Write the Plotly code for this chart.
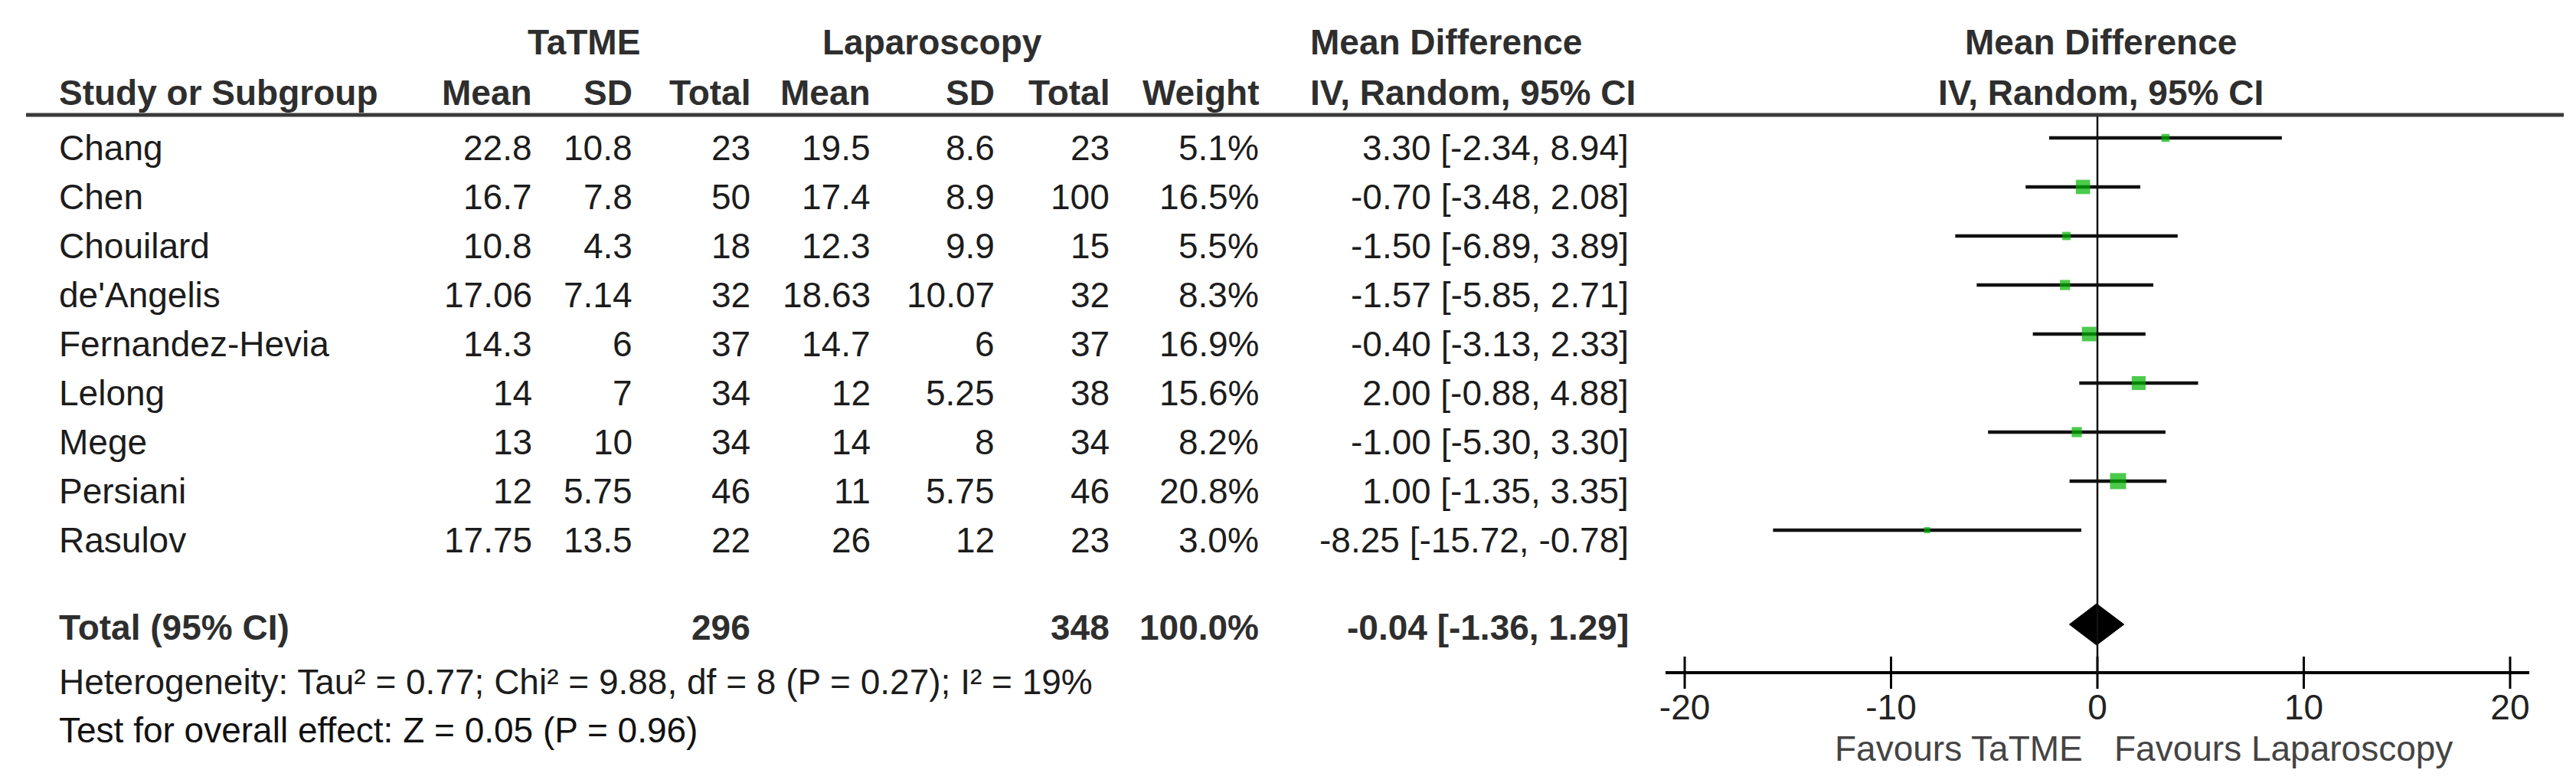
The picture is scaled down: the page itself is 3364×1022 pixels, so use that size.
import plotly.graph_objects as go

# ---------------- data ----------------
studies = ["Chang", "Chen", "Chouilard", "de'Angelis", "Fernandez-Hevia",
           "Lelong", "Mege", "Persiani", "Rasulov"]
tatme_mean = [22.8, 16.7, 10.8, 17.06, 14.3, 14, 13, 12, 17.75]
tatme_sd = [10.8, 7.8, 4.3, 7.14, 6, 7, 10, 5.75, 13.5]
tatme_n = [23, 50, 18, 32, 37, 34, 34, 46, 22]
lap_mean = [19.5, 17.4, 12.3, 18.63, 14.7, 12, 14, 11, 26]
lap_sd = [8.6, 8.9, 9.9, 10.07, 6, 5.25, 8, 5.75, 12]
lap_n = [23, 100, 15, 32, 37, 38, 34, 46, 23]
weight = [5.1, 16.5, 5.5, 8.3, 16.9, 15.6, 8.2, 20.8, 3.0]
md = [3.30, -0.70, -1.50, -1.57, -0.40, 2.00, -1.00, 1.00, -8.25]
ci_lo = [-2.34, -3.48, -6.89, -5.85, -3.13, -0.88, -5.30, -1.35, -15.72]
ci_hi = [8.94, 2.08, 3.89, 2.71, 2.33, 4.88, 3.30, 3.35, -0.78]

total_tatme = 296
total_lap = 348
total_weight = 100.0
pooled_md = -0.04
pooled_lo = -1.36
pooled_hi = 1.29

heterogeneity_text = "Heterogeneity: Tau² = 0.77; Chi² = 9.88, df = 8 (P = 0.27); I² = 19%"
overall_text = "Test for overall effect: Z = 0.05 (P = 0.96)"
tick_vals = [-20, -10, 0, 10, 20]
tick_text = ["-20", "-10", "0", "10", "20"]
favours_left = "Favours TaTME"
favours_right = "Favours Laparoscopy"

# ---------------- layout helpers ----------------
W, H = 3364, 1022
ROW0, ROWH = 185.0, 64.0
FONT = "Liberation Sans, Arial, sans-serif"
FS = 46
TXT = "#1c1c1c"
HDR = "#2e2e2e"


def ry(p):
    return (p - ROW0) / ROWH


def px(x):
    return x / W


y_top = ry(0)
y_bot = ry(H)
ci_shift = -13 / ROWH

fig = go.Figure()

# CI lines + weighted squares
row_y = [i + ci_shift for i in range(len(studies))]
fig.add_trace(go.Scatter(
    x=md, y=row_y, mode="markers",
    marker=dict(symbol="square", color="#00b300",
                size=[4.6 * w ** 0.5 for w in weight], line=dict(width=0)),
    error_x=dict(type="data", symmetric=False,
                 array=[h - m for h, m in zip(ci_hi, md)],
                 arrayminus=[m - l for m, l in zip(md, ci_lo)],
                 color="#111111", thickness=4.5, width=0),
    xaxis="x", yaxis="y", hoverinfo="skip", showlegend=False))

# pooled diamond
yd = ry(807)
hd = 27 / ROWH
fig.add_trace(go.Scatter(
    x=[pooled_lo, pooled_md, pooled_hi, pooled_md, pooled_lo],
    y=[yd, yd - hd, yd, yd + hd, yd],
    mode="lines", fill="toself", fillcolor="black",
    line=dict(color="black", width=1), xaxis="x", yaxis="y",
    hoverinfo="skip", showlegend=False))

# axis ticks (crossing the axis line)
axis_y = ry(870)
fig.add_trace(go.Scatter(
    x=tick_vals, y=[axis_y] * len(tick_vals), mode="markers",
    marker=dict(symbol="line-ns", size=30, line=dict(color="black", width=3)),
    xaxis="x", yaxis="y", hoverinfo="skip", showlegend=False))

# zero line
fig.add_shape(type="line", xref="x", yref="y", x0=0, x1=0,
              y0=ry(142), y1=axis_y, line=dict(color="#111111", width=2.5))
# header rule
fig.add_shape(type="line", xref="paper", yref="y", x0=px(26), x1=px(3340),
              y0=ry(142), y1=ry(142), line=dict(color="#3a3a3a", width=5))

ann = []


def add(text, x, y, anchor="right", bold=False, color=TXT, size=FS):
    ann.append(dict(text=f"<b>{text}</b>" if bold else text,
                    x=px(x), y=y, xref="paper", yref="y",
                    xanchor=anchor, yanchor="middle", showarrow=False,
                    font=dict(family=FONT, size=size, color=color)))


# headers
h1 = ry(47)
h2 = ry(113)
add("TaTME", 754, h1, "center", True, HDR)
add("Laparoscopy", 1209, h1, "center", True, HDR)
add("Mean Difference", 1701, h1, "left", True, HDR)
add("Mean Difference", 2735, h1, "center", True, HDR)
add("Study or Subgroup", 67, h2, "left", True, HDR)
COLS = [689, 820, 974, 1131, 1293, 1443, 1638]
for c, t in zip(COLS, ["Mean", "SD", "Total", "Mean", "SD", "Total", "Weight"]):
    add(t, c, h2, "right", True, HDR)
add("IV, Random, 95% CI", 1701, h2, "left", True, HDR)
add("IV, Random, 95% CI", 2735, h2, "center", True, HDR)

# study rows
for i, s in enumerate(studies):
    add(s, 67, i, "left")
    vals = [f"{tatme_mean[i]:g}", f"{tatme_sd[i]:g}", f"{tatme_n[i]}",
            f"{lap_mean[i]:g}", f"{lap_sd[i]:g}", f"{lap_n[i]}",
            f"{weight[i]:.1f}%"]
    for c, v in zip(COLS, vals):
        add(v, c, i, "right")
    add(f"{md[i]:.2f} [{ci_lo[i]:.2f}, {ci_hi[i]:.2f}]", 2121, i, "right")

# total row
yt = ry(811)
add("Total (95% CI)", 67, yt, "left", True, HDR)
add(f"{total_tatme}", COLS[2], yt, "right", True, HDR)
add(f"{total_lap}", COLS[5], yt, "right", True, HDR)
add(f"{total_weight:.1f}%", COLS[6], yt, "right", True, HDR)
add(f"{pooled_md:.2f} [{pooled_lo:.2f}, {pooled_hi:.2f}]", 2121, yt, "right", True, HDR)

add(heterogeneity_text, 67, ry(882), "left")
add(overall_text, 67, ry(945), "left", color="#111111")

add(favours_left, 2714, ry(969), "right", color="#444444")
add(favours_right, 2751, ry(969), "left", color="#444444")

fig.update_layout(
    width=W, height=H, margin=dict(l=0, r=0, t=0, b=0, pad=0),
    paper_bgcolor="white", plot_bgcolor="rgba(0,0,0,0)",
    font=dict(family=FONT, size=FS, color=TXT),
    annotations=ann,
    xaxis=dict(domain=[px(2167), px(3295)], range=[-20.93, 20.93],
               anchor="free", position=1 - 870 / H,
               showline=True, linecolor="black", linewidth=4,
               showgrid=False, zeroline=False,
               tickmode="array", tickvals=tick_vals, ticktext=tick_text,
               ticks="", ticklabelstandoff=4,
               tickfont=dict(family=FONT, size=FS, color="#222222"),
               automargin=False, fixedrange=True),
    yaxis=dict(domain=[0, 1], range=[y_bot, y_top], visible=False,
               showgrid=False, zeroline=False, fixedrange=True),
)

fig.write_html("out.html")
